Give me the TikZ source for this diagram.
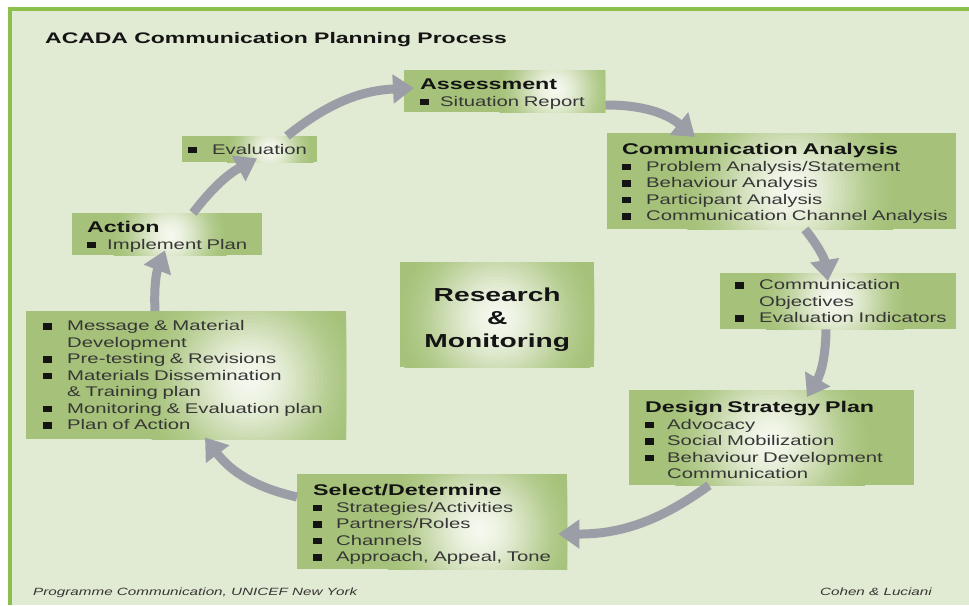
\documentclass[tikz,border=0pt]{standalone}
\usepackage{fontspec}
\setmainfont{Liberation Sans}
\newfontfamily\rf[FakeStretch=1.45]{Liberation Sans}
\newfontfamily\hf[FakeStretch=1.5]{Liberation Sans}
\usetikzlibrary{arrows.meta,calc}
\definecolor{bgc}{HTML}{E1EAD2}
\definecolor{framec}{HTML}{8CC04C}
\definecolor{boxg}{HTML}{A6C27A}
\definecolor{glowc}{HTML}{F5F8EE}
\definecolor{arr}{HTML}{9C9EA7}
\definecolor{txt}{HTML}{363636}
\definecolor{hdc}{HTML}{141414}
\def\bind{23pt}
\newcommand\boxhead[1]{\par\noindent{\hf\bfseries\fontsize{15.5}{16.5}\selectfont\color{hdc}#1}\par}
\newcommand\bitem[1]{\noindent\makebox[\bind][l]{\color{hdc}\rule[1pt]{9pt}{6.5pt}}#1\par}
\newcommand\bcont[1]{\noindent\hspace*{\bind}#1\par}
\tikzset{
  box/.style={fill=boxg, inner sep=0pt, anchor=north west, align=left,
    font=\rf\fontsize{14}{16.5}\selectfont, text=txt},
  glow/.style args={#1/#2}{path picture={
    \coordinate (gc) at ($(path picture bounding box.north west)+(#1)$);
    \foreach \k in {0,...,29}{
      \pgfmathsetmacro\glt{1-\k/30}
      \pgfmathsetmacro\glp{100*(1-(3*\glt*\glt-2*\glt*\glt*\glt))}
      \fill[glowc!\glp!boxg] (gc) circle ({#2*\glt*1pt});
    }}},
  flow/.style={draw=arr, line width=9pt, -{Triangle[width=28pt,length=21pt]}},
  foot/.style={font=\rf\itshape\fontsize{10.5}{12}\selectfont, text=txt, inner sep=0pt},
}
\begin{document}
\begin{tikzpicture}[x=1pt,y=-1pt]
\fill[white] (0,0) rectangle (969,605);
\fill[bgc] (8,7) rectangle (969,605);
\fill[framec] (8,7) rectangle (969,11);
\fill[framec] (8,7) rectangle (12,605);

\node[anchor=base west, inner sep=0pt, font=\hf\bfseries\fontsize{15.3}{18}\selectfont, text=hdc]
  (title) at (45,43) {ACADA Communication Planning Process};

\node[box, glow={151,20/60}, text width=201pt, minimum height=42pt] (assess) at (404,70)
  {\leftskip=16pt\def\bind{20pt}\boxhead{Assessment}\bitem{Situation Report}};
\node[box, glow={88,14/45}, text width=135pt, minimum height=26pt] (eval) at (182,136)
  {\leftskip=6pt\def\bind{24pt}\bitem{Evaluation}};
\node[box, glow={98,22/60}, text width=190pt, minimum height=42pt] (action) at (72,213)
  {\leftskip=15pt\def\bind{20pt}\boxhead{Action}\bitem{Implement Plan}};
\node[box, glow={183,57/110}, text width=349pt, minimum height=96pt] (canal) at (607,133)
  {\leftskip=15pt\def\bind{24pt}\boxhead{Communication Analysis}\bitem{Problem Analysis/Statement}\bitem{Behaviour Analysis}\bitem{Participant Analysis}\bitem{Communication Channel Analysis}};
\node[box, glow={115,27/75}, text width=236pt, minimum height=56pt] (cobj) at (720,273)
  {\leftskip=15pt\def\bind{24pt}\bitem{Communication}\bcont{Objectives}\bitem{Evaluation Indicators}};
\node[box, glow={97,56/105}, text width=194pt, minimum height=105pt, align=center,
  font=\hf\bfseries\fontsize{18.8}{23}\selectfont, text=hdc] (research) at (400,262)
  {\rule{0pt}{24pt}Research\\\&\\Monitoring};
\node[box, glow={224,69/115}, text width=320pt, minimum height=128pt] (msg) at (26,311)
  {\leftskip=17pt\def\bind{24pt}\bitem{Message \& Material}\bcont{Development}\bitem{Pre-testing \& Revisions}\bitem{Materials Dissemination}\bcont{\& Training plan}\bitem{Monitoring \& Evaluation plan}\bitem{Plan of Action}};
\node[box, glow={141,50/105}, text width=285pt, minimum height=95pt] (design) at (629,390)
  {\leftskip=16pt\def\bind{22pt}\boxhead{Design Strategy Plan}\bitem{Advocacy}\bitem{Social Mobilization}\bitem{Behaviour Development}\bcont{Communication}};
\node[box, glow={183,56/100}, text width=270pt, minimum height=95pt] (select) at (297,474)
  {\leftskip=16pt\def\bind{23pt}\boxhead{Select/Determine}\bitem{Strategies/Activities}\bitem{Partners/Roles}\bitem{Channels}\bitem{Approach, Appeal, Tone}};

\draw[flow] ($(eval.north west)+(105,0)$) to[bend left=18] ($(assess.north west)+(10,18)$);
\draw[flow] ($(assess.north east)+(0,35)$) to[bend left=20] ($(canal.north west)+(88,4)$);
\draw[flow] ($(canal.south west)+(198,0)$) to[bend left=15] ($(cobj.north west)+(108,8)$);
\draw[flow] ($(cobj.south west)+(106,0)$) to[bend left=15] ($(design.north west)+(178,7)$);
\draw[flow] ($(design.south west)+(80,0)$) to[bend left=18] ($(select.north east)+(-9,60)$);
\draw[flow] ($(select.north west)+(0,23)$) to[bend left=20] ($(msg.south west)+(179,-2)$);
\draw[flow] ($(msg.north west)+(129,0)$) to[bend left=12] ($(action.south west)+(93,-5)$);
\draw[flow] ($(action.north west)+(121,0)$) to[bend left=12] ($(eval.south west)+(75,-4)$);

\node[foot, anchor=base west] (src) at (33,595) {Programme Communication, UNICEF New York};
\node[foot, anchor=base east] (auth) at (932,595) {Cohen \& Luciani};
\end{tikzpicture}
\end{document}
